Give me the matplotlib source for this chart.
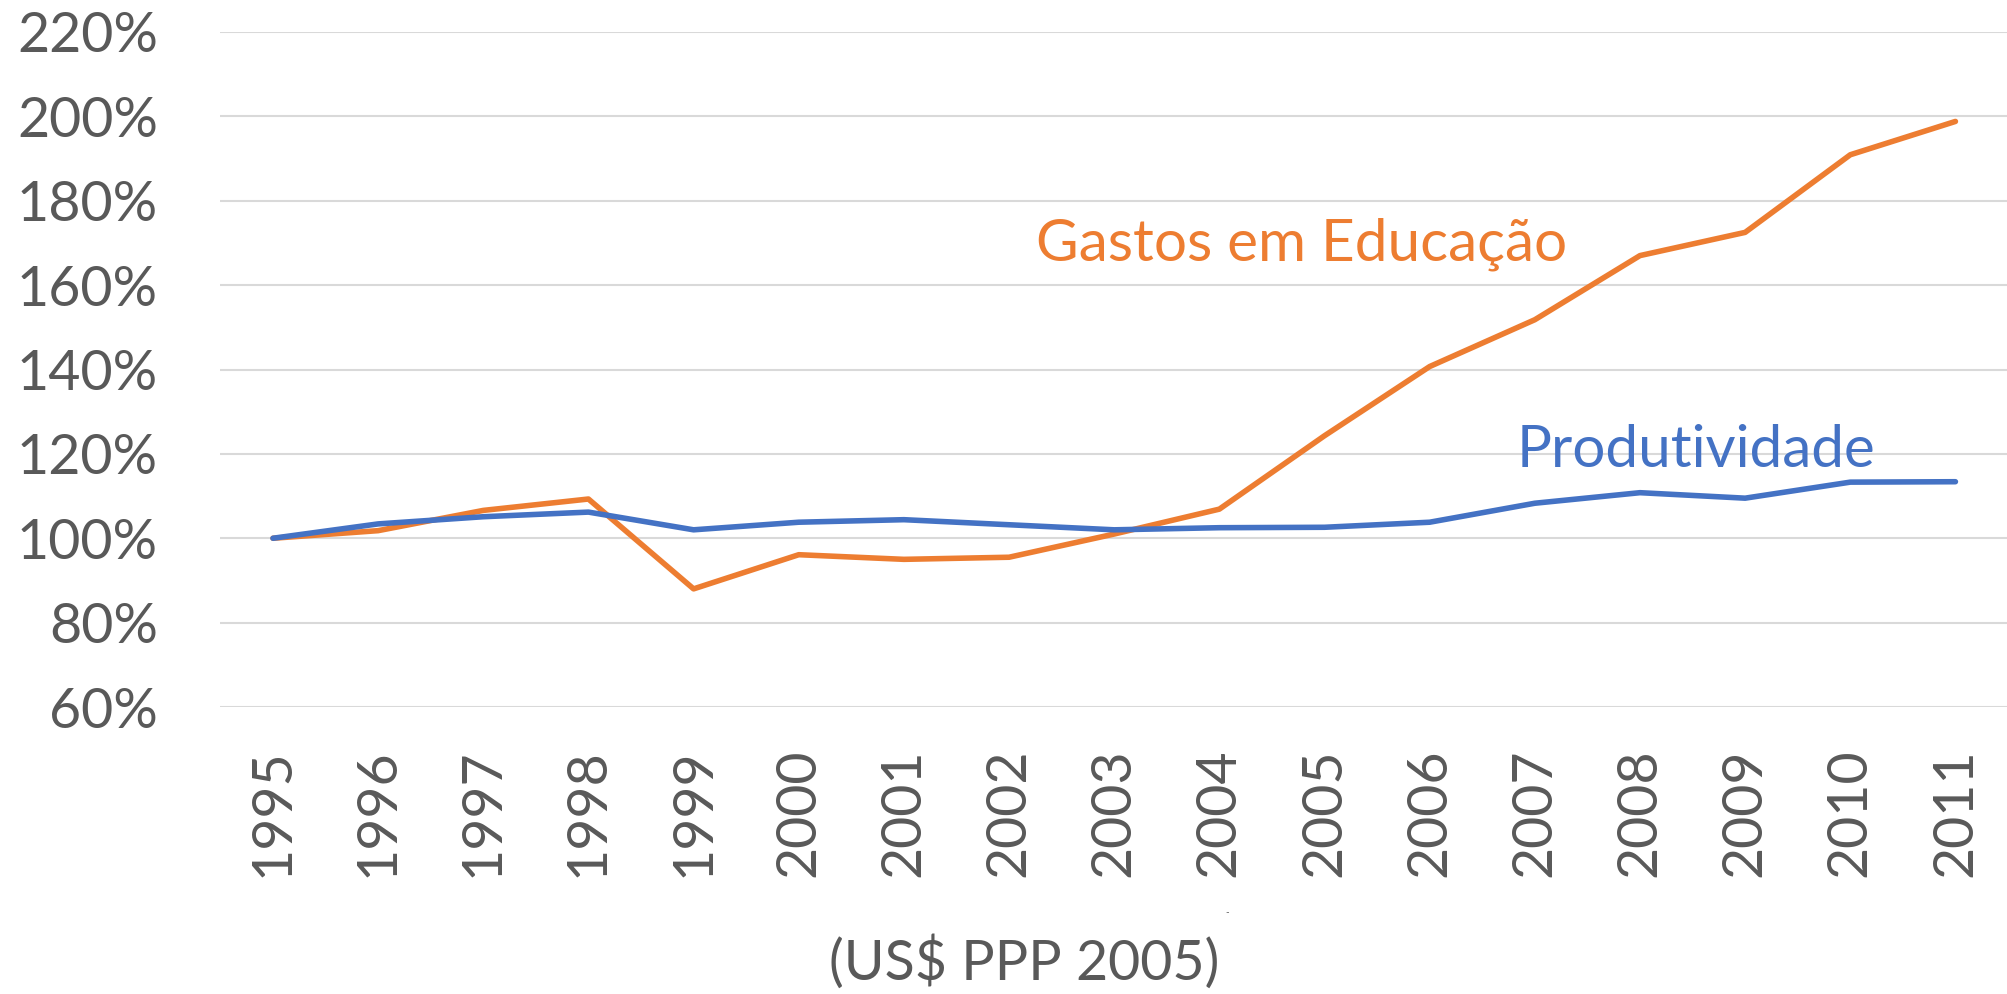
import matplotlib
matplotlib.use("Agg")
import matplotlib.pyplot as plt
from matplotlib.ticker import FuncFormatter, FixedLocator

years = ["1995", "1996", "1997", "1998", "1999", "2000", "2001", "2002",
         "2003", "2004", "2005", "2006", "2007", "2008", "2009", "2010", "2011"]
gastos = [100.0, 101.8, 106.6, 109.3, 88.0, 96.1, 95.0, 95.5, 101.0,
          106.9, 124.3, 140.7, 151.8, 167.0, 172.5, 190.9, 198.8]
produtividade = [100.0, 103.4, 105.1, 106.2, 102.0, 103.8, 104.4, 103.2, 102.0,
                 102.5, 102.6, 103.8, 108.3, 110.8, 109.5, 113.3, 113.4]
y_ticks = [60, 80, 100, 120, 140, 160, 180, 200, 220]
label_gastos = "Gastos em Educação"
label_prod = "Produtividade"
x_title = "(US$ PPP 2005)"

ORANGE = "#ED7D31"
BLUE = "#4472C4"
GRAY = "#595959"
GRID = "#D9D9D9"
FONT = "Lato"

fig = plt.figure(figsize=(20.08, 9.94), dpi=100)
ax = fig.add_axes([220.4 / 2008, (994 - 707) / 994, (2008 - 220.4) / 2008, (707 - 32) / 994])

x = list(range(len(years)))
ax.plot(x, gastos, color=ORANGE, lw=4.0, solid_capstyle="round", solid_joinstyle="round", zorder=3)
ax.plot(x, produtividade, color=BLUE, lw=4.0, solid_capstyle="round", solid_joinstyle="round", zorder=4)

ax.set_xlim(-0.5, len(years) - 0.5)
ax.set_ylim(y_ticks[0], y_ticks[-1])
ax.yaxis.set_major_locator(FixedLocator(y_ticks))
ax.yaxis.set_major_formatter(FuncFormatter(lambda v, p: f"{v:.0f}%"))
ax.set_xticks(x)
ax.set_xticklabels(years, rotation=90)
ax.grid(axis="y", color=GRID, lw=1.5, zorder=0)
ax.set_axisbelow(True)
for s in ax.spines.values():
    s.set_visible(False)
ax.tick_params(axis="both", length=0, colors=GRAY)
ax.tick_params(axis="y", pad=45, labelsize=40)
ax.tick_params(axis="x", pad=30, labelsize=40)
for lab in ax.get_xticklabels() + ax.get_yticklabels():
    lab.set_fontfamily(FONT)
    lab.set_color(GRAY)

ax.text(7.26, 165.8, label_gastos, color=ORANGE, fontsize=42, family=FONT, va="baseline", ha="left")
ax.text(11.83, 117.0, label_prod, color=BLUE, fontsize=42, family=FONT, va="baseline", ha="left")

fig.text(1024 / 2008, (994 - 980) / 994, x_title, color=GRAY, fontsize=40, family=FONT, ha="center", va="baseline")
fig.text(1227 / 2008, (994 - 915) / 994, "-", color=GRAY, fontsize=7, family=FONT, ha="center", va="baseline")

fig.savefig("out.png", dpi=100)
